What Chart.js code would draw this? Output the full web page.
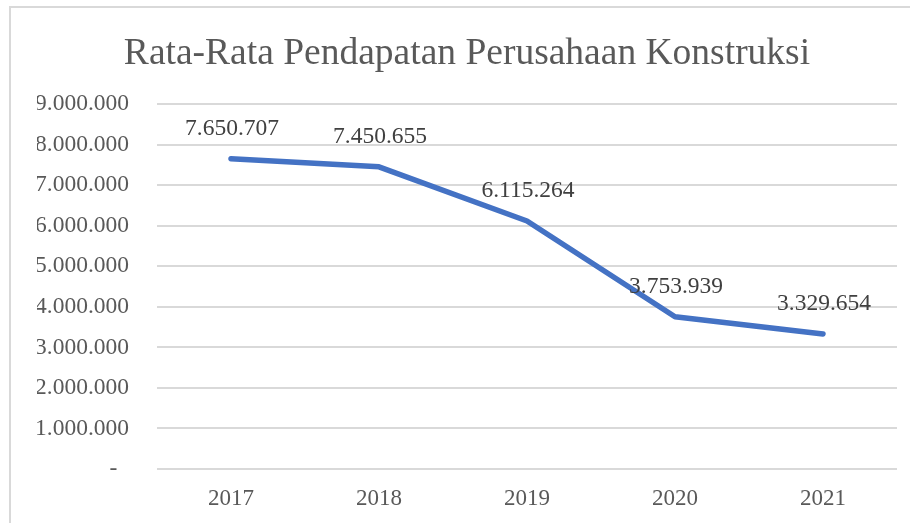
<!DOCTYPE html>
<html>
<head>
<meta charset="utf-8">
<script src="https://cdn.jsdelivr.net/npm/chart.js@4/dist/chart.umd.min.js"></script>
<style>
  html, body { margin: 0; padding: 0; background: #fff; }
  #wrap { width: 910px; height: 523px; position: relative; }
</style>
</head>
<body>
<div id="wrap"><canvas id="revenueChart"></canvas></div>
<script>
const years = ['2017', '2018', '2019', '2020', '2021'];
const avgRevenue = [7650707, 7450655, 6115264, 3753939, 3329654];
const yTicks = [0, 1000000, 2000000, 3000000, 4000000, 5000000, 6000000, 7000000, 8000000, 9000000];
const chartTitle = 'Rata-Rata Pendapatan Perusahaan Konstruksi';

const serif = "'Liberation Serif', 'Times New Roman', serif";

// titik ribuan gaya Indonesia, nol jadi "-"
function fmt(v) {
  if (v === 0) return '-  ';
  return new Intl.NumberFormat('de-DE').format(v);
}

// frame tipis di kiri dan atas
const framePlugin = {
  id: 'frame',
  beforeDraw(chart) {
    const c = chart.ctx;
    c.save();
    c.strokeStyle = '#d9d9d9';
    c.lineWidth = 2;
    c.beginPath();
    c.moveTo(10, chart.height);
    c.lineTo(10, 7);
    c.lineTo(chart.width, 7);
    c.stroke();
    c.restore();
  }
};

// label angka di atas tiap titik
const valueLabels = {
  id: 'valueLabels',
  afterDatasetsDraw(chart) {
    const c = chart.ctx;
    const meta = chart.getDatasetMeta(0);
    c.save();
    c.font = '23.5px ' + serif;
    c.fillStyle = '#404040';
    c.textAlign = 'center';
    c.textBaseline = 'middle';
    meta.data.forEach((pt, i) => {
      c.fillText(fmt(avgRevenue[i]), pt.x + 1, pt.y - 30);
    });
    c.restore();
  }
};

const ctx = document.getElementById('revenueChart').getContext('2d');
const revenueChart = new Chart(ctx, {
  type: 'line',
  data: {
    labels: years,
    datasets: [{
      label: 'Pendapatan',
      data: avgRevenue,
      borderColor: '#4472C4',
      borderWidth: 5.5,
      borderCapStyle: 'round',
      borderJoinStyle: 'round',
      tension: 0,
      fill: false,
      pointRadius: 0
    }]
  },
  options: {
    responsive: true,
    maintainAspectRatio: false,
    animation: false,
    layout: {
      padding: { top: 10, right: 13, bottom: 0, left: 37 }
    },
    plugins: {
      legend: { display: false },
      tooltip: { enabled: false },
      title: {
        display: true,
        text: chartTitle,
        color: '#595959',
        font: { family: serif, size: 37.5, weight: 'normal' },
        padding: { top: 22, bottom: 27 }
      }
    },
    scales: {
      x: {
        offset: true,
        grid: { display: false, drawTicks: false },
        border: { display: false },
        ticks: {
          color: '#595959',
          font: { family: serif, size: 23 },
          padding: 16
        },
        afterFit(scale) { scale.height = 54; }
      },
      y: {
        min: 0,
        max: 9000000,
        afterBuildTicks(scale) {
          scale.ticks = yTicks.map(v => ({ value: v }));
        },
        grid: { color: '#d9d9d9', lineWidth: 2, drawTicks: false },
        border: { display: false },
        ticks: {
          color: '#595959',
          font: { family: serif, size: 23.5 },
          padding: 28,
          callback: v => fmt(v)
        },
        afterFit(scale) { scale.width = 120; }
      }
    }
  },
  plugins: [framePlugin, valueLabels]
});
</script>
</body>
</html>
